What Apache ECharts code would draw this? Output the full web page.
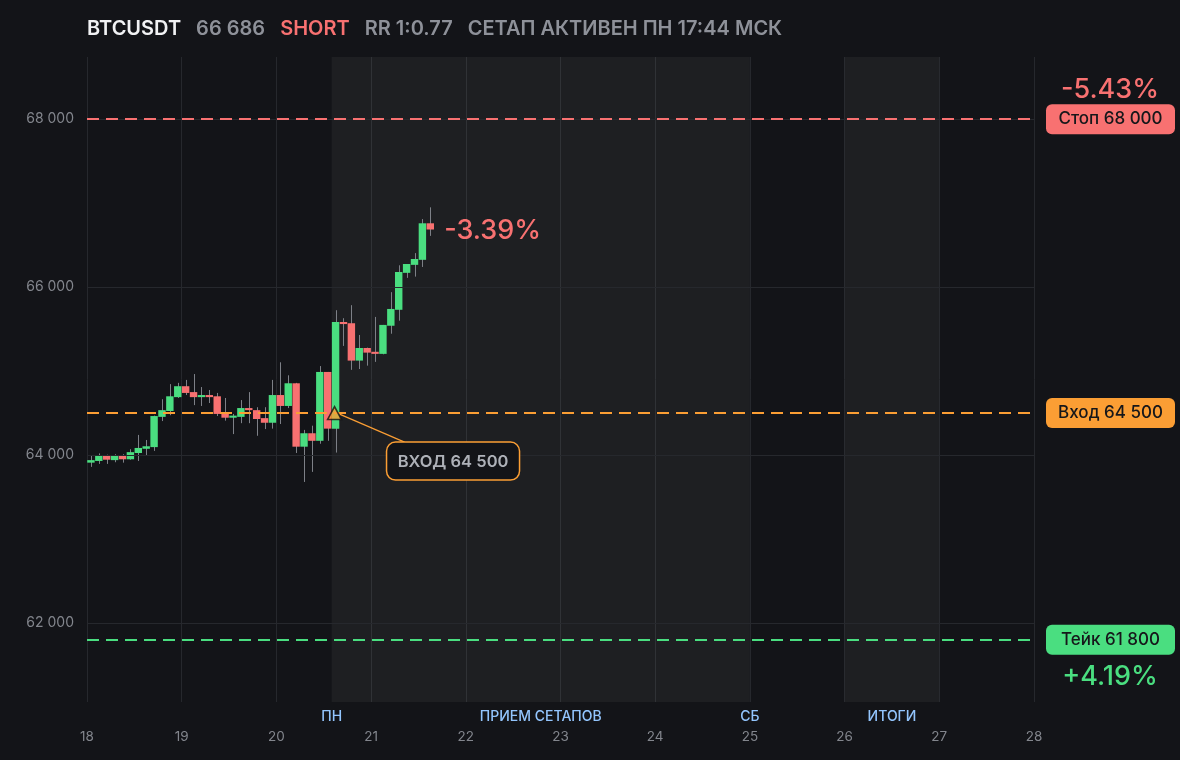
<!DOCTYPE html>
<html><head><meta charset="utf-8">
<script src="https://cdn.jsdelivr.net/npm/echarts@6/dist/echarts.min.js"></script>
<style>html,body{margin:0;padding:0;background:#131418;}#c{width:1180px;height:760px;}</style>
</head><body><div id="c"></div>
<script>
// ---- header texts ----
const tickerText = 'BTCUSDT';
const lastPriceText = '66 686';
const sideText = 'SHORT';
const rrText = 'RR 1:0.77';
const statusText = 'СЕТАП АКТИВЕН ПН 17:44 МСК';

// ---- axes ----
const dayTicks = [18, 19, 20, 21, 22, 23, 24, 25, 26, 27, 28];
const priceTicks = [62000, 64000, 66000, 68000];
const priceMin = 61060;
const priceMax = 68740;

// ---- 2h candles ----
const candleHours = 2;
const candleTimes = [
  '18 00:00','18 02:00','18 04:00','18 06:00','18 08:00','18 10:00','18 12:00','18 14:00','18 16:00','18 18:00','18 20:00','18 22:00',
  '19 00:00','19 02:00','19 04:00','19 06:00','19 08:00','19 10:00','19 12:00','19 14:00','19 16:00','19 18:00','19 20:00','19 22:00',
  '20 00:00','20 02:00','20 04:00','20 06:00','20 08:00','20 10:00','20 12:00','20 14:00','20 16:00','20 18:00','20 20:00','20 22:00',
  '21 00:00','21 02:00','21 04:00','21 06:00','21 08:00','21 10:00','21 12:00','21 14:00'
];
const opens = [
  63910,63930,64000,63940,63990,63950,64025,64075,64095,64455,64525,64690,
  64820,64750,64690,64715,64700,64490,64445,64455,64560,64535,64440,64385,
  64715,64585,64855,64100,64260,64170,64990,64315,65585,65570,65125,65275,
  65230,65205,65540,65730,66170,66265,66325,66760
];
const highs = [
  64000,64020,64005,64010,64010,64070,64240,64180,64470,64665,64845,64860,
  64895,64965,64810,64775,64740,64680,64490,64655,64750,64570,64570,64895,
  65105,64950,64860,64300,64350,65060,64990,65725,65630,65785,65430,65280,
  65645,65550,65940,66260,66275,66405,66810,66950
];
const lows = [
  63860,63895,63895,63915,63910,63945,63930,64000,64050,64405,64475,64680,
  64715,64595,64585,64620,64465,64410,64250,64380,64380,64230,64310,64315,
  64370,64560,64025,63680,63800,64135,64170,64030,65300,65015,65025,65065,
  65110,65200,65445,65600,66110,66125,66240,66610
];
const closes = [
  63940,64000,63945,63990,63950,64035,64085,64105,64465,64535,64700,64820,
  64740,64690,64715,64690,64490,64445,64470,64560,64535,64430,64385,64715,
  64585,64855,64100,64260,64170,64990,64315,65585,65560,65125,65275,65220,
  65205,65550,65740,66180,66275,66335,66760,66686
];

// ---- setup levels ----
const entryTime = '20 14:44';
const entryPrice = 64500;
const stopPrice = 68000;
const takePrice = 61800;
const entryNote = 'ВХОД 64 500';
const levelPrices = [stopPrice, entryPrice, takePrice];
const levelBadges = ['Стоп 68 000', 'Вход 64 500', 'Тейк 61 800'];
const levelPcts = ['-5.43%', '', '+4.19%'];
const currentPct = '-3.39%';

// ---- session bands / labels ----
const bandStarts = ['20 14:00', '26 00:00'];
const bandEnds = ['25 00:00', '27 00:00'];
const sessionNames = ['ПН', 'ПРИЕМ СЕТАПОВ', 'СБ', 'ИТОГИ'];
const sessionTimes = ['20 14:00', '22 19:00', '25 00:00', '26 12:00'];

// ---- style ----
const C = {
  bg: '#131418', grid: '#26282d', band: 'rgba(255,255,255,0.048)',
  green: '#4ade80', red: '#f87171', orange: '#fb9e34', wick: '#7d8087',
  axisText: '#83868d', headGrey: '#8e9199', white: '#f1f2f4', blue: '#93c5fd', dark: '#16171a'
};
const levelColors = [C.red, C.orange, C.green];
const FONT = 'Inter, "Noto Sans", sans-serif';

const parseT = s => { const [d, hm] = s.split(' '); const [h, m] = hm.split(':'); return +d + (+h + (+m) / 60) / 24; };
const fmtNum = v => String(v).replace(/\B(?=(\d{3})+(?!\d))/g, ' ');

const candleData = candleTimes.map((t, i) => [parseT(t), opens[i], closes[i], lows[i], highs[i]]);
const entryT = parseT(entryTime);
const lastIdx = candleTimes.length - 1;

const headStyle = (color, pad) => ({ color, fontSize: 20, fontWeight: 600, fontFamily: FONT, padding: [0, pad, 0, 0] });

const chart = echarts.init(document.getElementById('c'));
chart.setOption({
  backgroundColor: C.bg,
  animation: false,
  title: {
    left: 87, top: 19, padding: 0,
    text: `{a|${tickerText}}{b|${lastPriceText}}{c|${sideText}}{b|${rrText}}{d|${statusText}}`,
    textStyle: {
      rich: {
        a: headStyle(C.white, 15),
        b: headStyle(C.headGrey, 15),
        c: headStyle(C.red, 15),
        d: headStyle(C.headGrey, 0)
      }
    }
  },
  grid: { left: 87, right: 146, top: 57, bottom: 58 },
  xAxis: {
    type: 'value', min: dayTicks[0], max: dayTicks[dayTicks.length - 1], interval: 1,
    axisLine: { show: false }, axisTick: { show: false },
    splitLine: { show: true, lineStyle: { color: C.grid, width: 1 } },
    axisLabel: { color: C.axisText, fontSize: 13.5, fontFamily: FONT, margin: 28 }
  },
  yAxis: {
    type: 'value', min: priceMin, max: priceMax, scale: true,
    axisLine: { show: false }, axisTick: { show: false }, splitLine: { show: false },
    axisLabel: { customValues: priceTicks, color: C.axisText, fontSize: 14, fontFamily: FONT, margin: 13, formatter: v => fmtNum(v) }
  },
  series: [
    {
      name: 'frame', type: 'line', data: [], z: 1, silent: true,
      markArea: {
        silent: true,
        itemStyle: { color: C.band },
        data: bandStarts.map((s, i) => [{ xAxis: parseT(s) }, { xAxis: parseT(bandEnds[i]) }])
      },
      markLine: {
        silent: true, symbol: 'none', label: { show: false },
        lineStyle: { color: C.grid, width: 1, type: 'solid' },
        data: priceTicks.map(p => ({ yAxis: p }))
      }
    },
    {
      name: 'candles', type: 'custom', z: 3, data: candleData,
      encode: { x: 0, y: [1, 2, 3, 4] },
      renderItem: (params, api) => {
        const t = api.value(0), o = api.value(1), c = api.value(2), l = api.value(3), h = api.value(4);
        const dt = candleHours / 24;
        const pL = api.coord([t + dt * 0.03, o]);
        const pR = api.coord([t + dt * 0.97, c]);
        const pH = api.coord([t + dt / 2, h]);
        const pLo = api.coord([t + dt / 2, l]);
        const top = Math.min(pL[1], pR[1]);
        const hgt = Math.max(Math.abs(pR[1] - pL[1]), 2);
        const xm = Math.round(pH[0]) + 0.5;
        return {
          type: 'group', children: [
            { type: 'line', shape: { x1: xm, y1: pH[1], x2: xm, y2: pLo[1] }, style: { stroke: C.wick, lineWidth: 1 } },
            { type: 'rect', shape: { x: pL[0], y: top, width: pR[0] - pL[0], height: hgt }, style: { fill: c >= o ? C.green : C.red } }
          ]
        };
      }
    },
    {
      name: 'levels', type: 'line', data: [], z: 4, silent: true,
      markLine: {
        silent: true, symbol: 'none',
        data: levelPrices.map((p, i) => ({
          yAxis: p,
          lineStyle: { color: levelColors[i], width: 2, type: [12, 7] },
          label: {
            show: true, position: 'end', distance: 12,
            formatter: `{t|${levelBadges[i]}}`,
            rich: {
              t: {
                width: 129, height: 30, align: 'center', lineHeight: 30,
                backgroundColor: levelColors[i], borderRadius: 6,
                color: C.dark, fontSize: 17, fontWeight: 500, fontFamily: FONT
              }
            }
          }
        }))
      }
    },
    {
      name: 'levelPct', type: 'custom', z: 5, silent: true,
      data: levelPrices.map((p, i) => [dayTicks[dayTicks.length - 1], p, i]).filter((d, i) => levelPcts[i]),
      renderItem: (params, api) => {
        const i = api.value(2);
        const pt = api.coord([api.value(0), api.value(1)]);
        const above = api.value(1) > entryPrice;
        return {
          type: 'text',
          style: {
            x: pt[0] + 76, y: pt[1] + (above ? -29 : 37), text: levelPcts[i],
            fill: levelColors[i], fontSize: 27, fontWeight: 500, fontFamily: FONT, align: 'center', verticalAlign: 'middle'
          }
        };
      }
    },
    {
      name: 'entry', type: 'scatter', z: 6, silent: true,
      data: [[entryT, entryPrice]],
      symbol: 'triangle', symbolSize: [14, 13],
      itemStyle: { color: C.orange, borderColor: '#111', borderWidth: 1.5 }
    },
    {
      name: 'entryNote', type: 'custom', z: 5, silent: true,
      data: [[entryT, entryPrice]],
      renderItem: (params, api) => {
        const p = api.coord([api.value(0), api.value(1)]);
        const bx = p[0] + 52, by = p[1] + 29, bw = 133, bh = 38;
        return {
          type: 'group', children: [
            { type: 'line', shape: { x1: p[0] + 5, y1: p[1] + 1, x2: p[0] + 70, y2: by }, style: { stroke: C.orange, lineWidth: 1.2 } },
            { type: 'rect', shape: { x: bx, y: by, width: bw, height: bh, r: 9 }, style: { fill: C.bg, stroke: C.orange, lineWidth: 1.5 } },
            { type: 'text', style: { x: bx + bw / 2, y: by + bh / 2 + 1, text: entryNote, fill: '#aeb1b8', fontSize: 16.5, fontWeight: 600, fontFamily: FONT, align: 'center', verticalAlign: 'middle' } }
          ]
        };
      }
    },
    {
      name: 'currentPct', type: 'custom', z: 5, silent: true,
      data: [[candleData[lastIdx][0] + candleHours / 24, closes[lastIdx]]],
      renderItem: (params, api) => {
        const p = api.coord([api.value(0), api.value(1)]);
        return { type: 'text', style: { x: p[0] + 10, y: p[1] + 1, text: currentPct, fill: C.red, fontSize: 27, fontWeight: 500, fontFamily: FONT, align: 'left', verticalAlign: 'middle' } };
      }
    },
    {
      name: 'sessions', type: 'custom', z: 5, silent: true, clip: false,
      data: sessionTimes.map((t, i) => [parseT(t), priceMin, i]),
      renderItem: (params, api) => {
        const p = api.coord([api.value(0), api.value(1)]);
        return { type: 'text', style: { x: p[0], y: p[1] + 15, text: sessionNames[api.value(2)], fill: C.blue, fontSize: 14, fontWeight: 500, fontFamily: FONT, align: 'center', verticalAlign: 'middle' } };
      }
    }
  ]
});
</script>
</body></html>
